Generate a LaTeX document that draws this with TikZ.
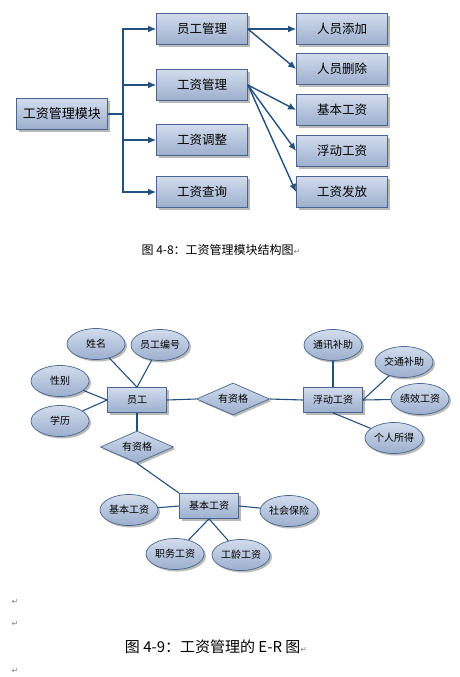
\documentclass[tikz,border=0pt]{standalone}
\usepackage{fontspec}
\usepackage{tikz}
\usetikzlibrary{arrows.meta,shapes.geometric,shadows}
\setmainfont{Noto Sans CJK SC}
\newfontfamily\symfont{DejaVu Sans}
\definecolor{linkblue}{HTML}{24507F}
\definecolor{edgeblue}{HTML}{4A668F}
\definecolor{boxtop}{HTML}{D2DCEC}
\definecolor{boxbot}{HTML}{9CAFCE}
\definecolor{marks}{HTML}{808080}
\newcommand{\retmark}{{\symfont\color{marks}\fontsize{8}{9}\selectfont ↵}}

\begin{document}
\begin{tikzpicture}[x=1pt,y=-1pt,
	modbox/.style={shape=rectangle,draw=edgeblue,line width=0.8pt,top color=boxtop,bottom color=boxbot,
		minimum width=91pt,minimum height=31pt,inner sep=0pt,font=\fontsize{12.5}{14}\selectfont,
		drop shadow={shadow xshift=2.5pt,shadow yshift=-2.5pt,fill=black!55}},
	arr/.style={-{Latex[length=8pt,width=7pt]},line width=1.4pt,draw=linkblue},
	entity/.style={shape=rectangle,draw=edgeblue,line width=0.7pt,top color=boxtop,bottom color=boxbot,
		minimum width=59pt,minimum height=25pt,inner sep=0pt,font=\fontsize{10}{12}\selectfont,
		drop shadow={shadow xshift=2pt,shadow yshift=-2pt,fill=black!55}},
	attr/.style={shape=ellipse,draw=edgeblue,line width=0.7pt,top color=boxtop,bottom color=boxbot,
		minimum width=58pt,minimum height=31pt,inner sep=0pt,font=\fontsize{10}{12}\selectfont,
		drop shadow={shadow xshift=2pt,shadow yshift=-2pt,fill=black!55}},
	rel/.style={shape=diamond,draw=edgeblue,line width=0.7pt,top color=boxtop,bottom color=boxbot,
		minimum width=73pt,minimum height=32pt,inner sep=0pt,aspect=2.3,font=\fontsize{10}{12}\selectfont,
		drop shadow={shadow xshift=2pt,shadow yshift=-2pt,fill=black!55}},
	erline/.style={line width=1.1pt,draw=linkblue}]

	\useasboundingbox (0,0) rectangle (460,677);

	% module structure
	\node[modbox,font=\fontsize{13}{15}\selectfont] (root) at (62,114) {工资管理模块};
	\node[modbox] (yggl) at (202,29)  {员工管理};
	\node[modbox] (gzgl) at (202,85)  {工资管理};
	\node[modbox] (gztz) at (202,140) {工资调整};
	\node[modbox] (gzcx) at (202,192) {工资查询};

	\node[modbox] (rytj) at (342,29)  {人员添加};
	\node[modbox] (rysc) at (342,69)  {人员删除};
	\node[modbox] (jbgz) at (342,110) {基本工资};
	\node[modbox] (fdgz) at (342,151) {浮动工资};
	\node[modbox] (gzff) at (342,192) {工资发放};

	\coordinate (trunk) at (123,114);
	\draw[line width=1.4pt,draw=linkblue] (root.east) -- (trunk);
	\draw[arr] (trunk) |- (yggl.west);
	\draw[arr] (trunk) |- (gzgl.west);
	\draw[arr] (trunk) |- (gztz.west);
	\draw[arr] (trunk) |- (gzcx.west);

	\draw[arr] (yggl.east) -- (rytj.west);
	\draw[arr] (yggl.east) -- (rysc.west);
	\draw[arr] (gzgl.east) -- (jbgz.west);
	\draw[arr] (gzgl.east) -- (fdgz.west);
	\draw[arr] (gzgl.east) -- (gzff.west);

	\node[font=\fontsize{12}{14}\selectfont] (cap1) at (221,250) {图 4-8：工资管理模块结构图\retmark};

	% E-R
	\node[entity] (yg)   at (137,400) {员工};
	\node[rel]    (yzg1) at (233,399) {有资格};
	\node[entity] (fdgzE) at (333,400) {浮动工资};
	\node[rel]    (yzg2) at (137,447) {有资格};
	\node[entity] (jbgzE) at (209,506) {基本工资};

	\node[attr] (xm)   at (96,344)  {姓名};
	\node[attr] (ygbh) at (160,345) {员工编号};
	\node[attr] (xb)   at (60,381)  {性别};
	\node[attr] (xl)   at (60,421)  {学历};

	\node[attr] (txbz) at (333,345) {通讯补助};
	\node[attr] (jtbz) at (404,362) {交通补助};
	\node[attr] (jxgz) at (420,399) {绩效工资};
	\node[attr] (grsd) at (394,438) {个人所得};

	\node[attr] (jbgzA) at (129,510) {基本工资};
	\node[attr] (shbx)  at (289,511) {社会保险};
	\node[attr] (zwgz)  at (175,554) {职务工资};
	\node[attr] (glgz)  at (241,555) {工龄工资};

	\draw[erline] (xm) -- (yg.north);
	\draw[erline] (ygbh) -- (yg.north);
	\draw[erline] (xb) -- (yg.west);
	\draw[erline] (xl) -- (yg.west);
	\draw[erline] (yg.east) -- (yzg1.west);
	\draw[erline] (yzg1.east) -- (fdgzE.west);
	\draw[erline] (yg.south) -- (yzg2.north);

	\draw[erline] (txbz) -- (fdgzE.north);
	\draw[erline] (jtbz) -- (fdgzE.east);
	\draw[erline] (jxgz) -- (fdgzE.east);
	\draw[erline] (grsd) -- (fdgzE.south);

	\draw[erline] (yzg2.south) -- (jbgzE.north west);
	\draw[erline] (jbgzA) -- (jbgzE.west);
	\draw[erline] (shbx) -- (jbgzE.east);
	\draw[erline] (zwgz) -- (jbgzE.south);
	\draw[erline] (glgz) -- (jbgzE.south);

	\node (ret1) at (15,602) {\retmark};
	\node (ret2) at (15,624) {\retmark};
	\node[font=\fontsize{15}{17}\selectfont] (cap2) at (216,647) {图 4-9：工资管理的 E-R 图\retmark};
	\node (ret3) at (15,671) {\retmark};

\end{tikzpicture}
\end{document}
